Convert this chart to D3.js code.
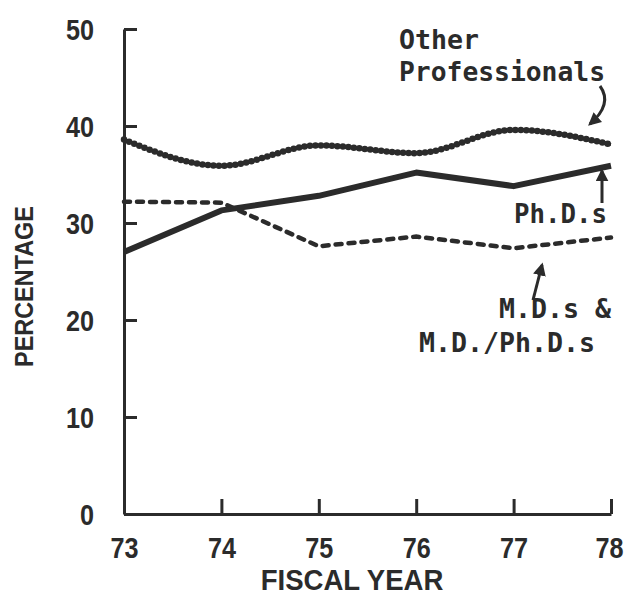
<!DOCTYPE html>
<html>
<head>
<meta charset="utf-8">
<script src="https://cdn.jsdelivr.net/npm/d3@7"></script>
<style>
  html, body { margin: 0; padding: 0; background: #ffffff; }
  svg { display: block; }
  .axis text { font-family: "Liberation Sans", Arial, sans-serif; font-size: 30px; fill: #2b2b2b; font-weight: bold; }
  .axis path, .axis line { stroke: #2b2b2b; stroke-width: 3; }
  .title { font-family: "Liberation Sans", Arial, sans-serif; font-weight: bold; fill: #2b2b2b; }
  .note { font-family: "DejaVu Sans Mono", "Liberation Mono", monospace; font-size: 27px; font-weight: bold; fill: #2b2b2b; }
</style>
</head>
<body>
<svg id="chart" width="629" height="595"></svg>
<script>
// ---- data ----
const years = [73, 74, 75, 76, 77, 78];
const otherProfessionals = [38.6, 35.9, 38.0, 37.2, 39.6, 38.1];
const phds = [27.0, 31.3, 32.8, 35.2, 33.8, 35.9];
const mds = [32.2, 32.1, 27.6, 28.6, 27.4, 28.5];
const yTicks = [0, 10, 20, 30, 40, 50];
const xTickLabels = ["73", "74", "75", "76", "77", "78"];

const ink = "#2b2b2b";
const svg = d3.select("#chart");

const x = d3.scaleLinear().domain([73, 78]).range([124, 611]);
const y = d3.scaleLinear().domain([0, 50]).range([514, 29]);

// condense text horizontally (narrow typeface look)
function squeeze(sel, f) {
  sel.each(function () {
    const len = this.getComputedTextLength();
    d3.select(this).attr("textLength", len * f).attr("lengthAdjust", "spacingAndGlyphs");
  });
}

// axes
const yAxis = d3.axisLeft(y).tickValues(yTicks).tickSizeInner(-13).tickSizeOuter(0).tickPadding(30);
const gy = svg.append("g").attr("class", "axis").attr("transform", `translate(${x(73)},0)`).call(yAxis);
gy.selectAll("text").attr("dy", "0.36em");
squeeze(gy.selectAll("text"), 0.84);

const xAxis = d3.axisBottom(x).tickValues(years).tickFormat((d, i) => xTickLabels[i])
  .tickSizeInner(-15).tickSizeOuter(0).tickPadding(23);
const gx = svg.append("g").attr("class", "axis").attr("transform", `translate(0,${y(0)})`).call(xAxis);
squeeze(gx.selectAll("text"), 0.84);
gx.selectAll("text").filter(d => d === 78).attr("dx", -2);

// axis titles
const yt = svg.append("text").attr("class", "title")
  .attr("transform", `translate(33,${(y(0) + y(50)) / 2 + 15}) rotate(-90)`)
  .attr("text-anchor", "middle").attr("font-size", 26).text("PERCENTAGE");
squeeze(yt, 0.9);
const xt = svg.append("text").attr("class", "title")
  .attr("x", 352).attr("y", 590).attr("text-anchor", "middle")
  .attr("font-size", 29).text("FISCAL YEAR");
squeeze(xt, 0.95);

// lines
const mk = arr => years.map((yr, i) => [yr, arr[i]]);
const lineLin = d3.line().x(d => x(d[0])).y(d => y(d[1]));
const lineSmooth = d3.line().x(d => x(d[0])).y(d => y(d[1])).curve(d3.curveMonotoneX);

svg.append("path").datum(mk(mds)).attr("d", lineLin)
  .attr("fill", "none").attr("stroke", ink).attr("stroke-width", 4.5)
  .attr("stroke-linecap", "round").attr("stroke-dasharray", "6 7");

svg.append("path").datum(mk(phds)).attr("d", lineLin)
  .attr("fill", "none").attr("stroke", ink).attr("stroke-width", 6)
  .attr("stroke-linejoin", "round");

svg.append("path").datum(mk(otherProfessionals)).attr("d", lineSmooth)
  .attr("fill", "none").attr("stroke", ink).attr("stroke-width", 3);
svg.append("path").datum(mk(otherProfessionals)).attr("d", lineSmooth)
  .attr("fill", "none").attr("stroke", ink).attr("stroke-width", 6.5)
  .attr("stroke-linecap", "round").attr("stroke-dasharray", "0 5.5");

// arrowhead marker
svg.append("defs").append("marker")
  .attr("id", "head").attr("viewBox", "0 0 10 10").attr("refX", 8).attr("refY", 5)
  .attr("markerWidth", 13).attr("markerHeight", 13).attr("markerUnits", "userSpaceOnUse")
  .attr("orient", "auto")
  .append("path").attr("d", "M0,0 L10,5 L0,10 Z").attr("fill", ink);

// annotations
const notes = [
  ["Other", 399, 49, 80],
  ["Professionals", 399, 81, 206],
  ["Ph.D.s", 514, 223, 93],
  ["M.D.s &", 499, 318, 112],
  ["M.D./Ph.D.s", 419, 352, 176]
];
notes.forEach(([t, nx, ny, w]) => {
  svg.append("text").attr("class", "note").attr("x", nx).attr("y", ny)
    .attr("textLength", w).attr("lengthAdjust", "spacingAndGlyphs").text(t);
});

const arrow = d => svg.append("path").attr("d", d).attr("fill", "none")
  .attr("stroke", ink).attr("stroke-width", 3).attr("marker-end", "url(#head)");
arrow("M600,86 Q613,104 590,124");
arrow("M602,203 L602,171");
arrow("M533,300 L542,265");
</script>
</body>
</html>
